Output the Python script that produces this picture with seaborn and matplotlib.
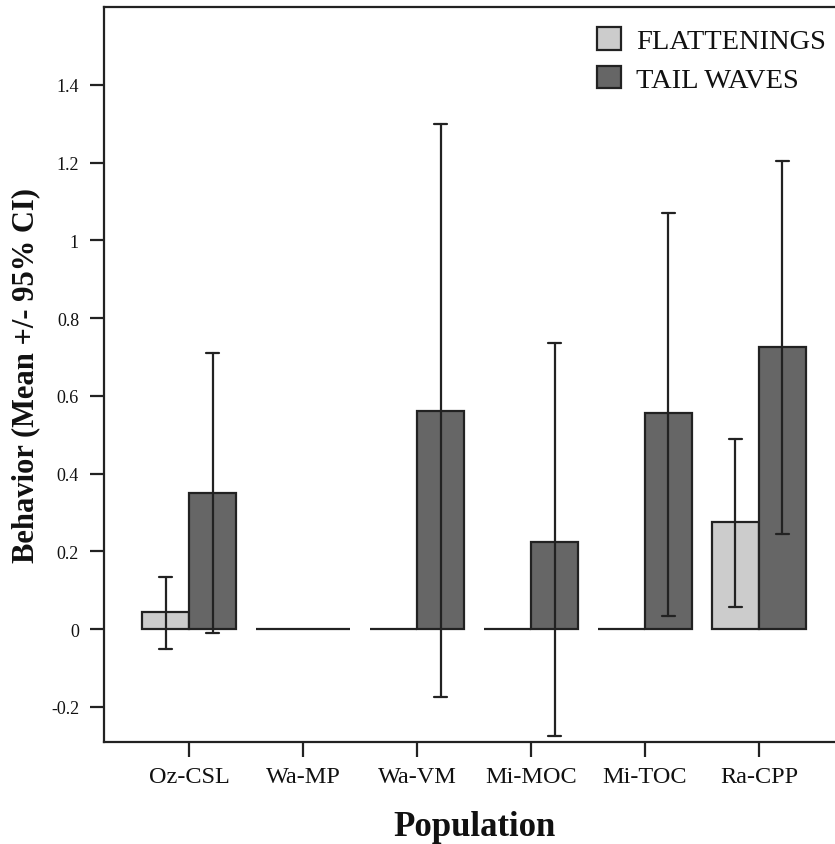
import matplotlib
matplotlib.use("Agg")
import matplotlib.pyplot as plt
import seaborn as sns
import pandas as pd
import numpy as np
from matplotlib.ticker import FuncFormatter
from matplotlib.patches import Patch

populations = ["Oz-CSL", "Wa-MP", "Wa-VM", "Mi-MOC", "Mi-TOC", "Ra-CPP"]
flat_mean = [0.045, 0.0, 0.0, 0.0, 0.0, 0.275]
flat_lo = [-0.05, np.nan, np.nan, np.nan, np.nan, 0.058]
flat_hi = [0.135, np.nan, np.nan, np.nan, np.nan, 0.49]
tail_mean = [0.35, 0.0, 0.56, 0.225, 0.555, 0.725]
tail_lo = [-0.01, np.nan, -0.175, -0.275, 0.035, 0.245]
tail_hi = [0.71, np.nan, 1.3, 0.735, 1.07, 1.205]
behaviors = ["FLATTENINGS", "TAIL WAVES"]
colors = ["#cccccc", "#666666"]

sns.set_style("white")
plt.rcParams["font.family"] = ["Liberation Serif", "DejaVu Serif"]

df = pd.DataFrame({
    "Population": populations * 2,
    "Behavior": [behaviors[0]] * 6 + [behaviors[1]] * 6,
    "Value": flat_mean + tail_mean,
    "lo": flat_lo + tail_lo,
    "hi": flat_hi + tail_hi,
})

ink = "#222222"
fig = plt.figure(figsize=(8.35, 8.45), dpi=100)
ax = fig.add_axes([104 / 835, 1 - 743 / 845, (844 - 104) / 835, (743 - 8) / 845])

sns.barplot(data=df, x="Population", y="Value", hue="Behavior",
            order=populations, hue_order=behaviors, palette=colors,
            errorbar=None, width=0.825, gap=0, edgecolor=ink,
            linewidth=1.6, saturation=1, legend=False, ax=ax)

# error bars at bar centres
bars = [p for p in ax.patches]
for i, b in enumerate(behaviors):
    sub = df[df["Behavior"] == b].reset_index(drop=True)
    for j in range(len(populations)):
        p = bars[i * len(populations) + j]
        xc = p.get_x() + p.get_width() / 2
        lo, hi = sub.loc[j, "lo"], sub.loc[j, "hi"]
        if np.isnan(lo):
            continue
        ax.plot([xc, xc], [lo, hi], color=ink, lw=1.6, zorder=5)
        for yv in (lo, hi):
            ax.plot([xc - 0.06, xc + 0.06], [yv, yv], color=ink, lw=1.6, zorder=5)

ax.set_xlim(-0.746, 5.746)
ax.set_ylim(-0.29, 1.6)
ax.set_yticks([-0.2, 0, 0.2, 0.4, 0.6, 0.8, 1.0, 1.2, 1.4])
ax.yaxis.set_major_formatter(FuncFormatter(lambda v, _: f"{v:g}"))

for s in ax.spines.values():
    s.set_linewidth(1.6)
    s.set_color(ink)

ax.tick_params(axis="y", direction="out", length=10, width=1.6, labelsize=13, pad=8,
               left=True, color=ink, labelcolor="#111111")
ax.tick_params(axis="x", direction="out", length=11, width=1.6, labelsize=17.5, pad=6,
               bottom=True, color=ink, labelcolor="#111111")

ax.set_xlabel("Population", fontsize=25, fontweight="bold", labelpad=17, color="#111111")
ax.set_ylabel("Behavior (Mean +/- 95% CI)", fontsize=22, fontweight="bold", labelpad=8,
              color="#111111")

handles = [Patch(facecolor=c, edgecolor=ink, linewidth=1.6) for c in colors]
fig.legend(handles, behaviors, loc="upper right", bbox_to_anchor=(1.01, 0.987),
           frameon=False, fontsize=20.5, handlelength=0.85, handleheight=0.85,
           handletextpad=0.55, labelspacing=0.4, borderaxespad=0.2,
           labelcolor="#111111")

fig.savefig("out.png", dpi=100)
